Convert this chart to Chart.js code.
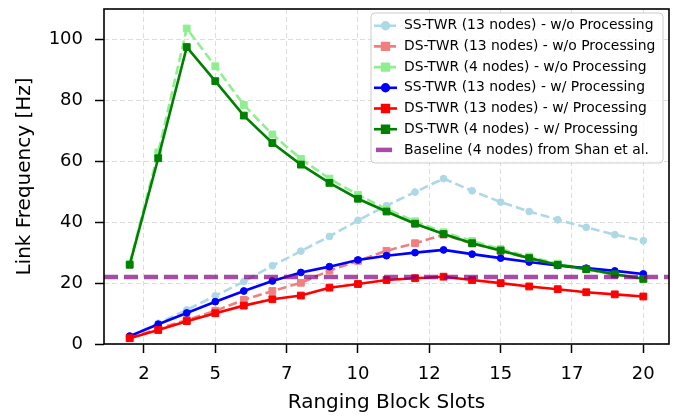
<!DOCTYPE html>
<html>
<head>
<meta charset="utf-8">
<script src="https://cdn.jsdelivr.net/npm/chart.js@4.4.1/dist/chart.umd.min.js"></script>
<style>
  html, body { margin: 0; padding: 0; background: #fff; }
  #wrap { width: 681px; height: 418px; }
</style>
</head>
<body>
<div id="wrap"><canvas id="chart" width="681" height="418"></canvas></div>
<script>
// x: ranging block slots, y: link frequency in Hz
const slots = [2, 3, 4, 5, 6, 7, 8, 9, 10, 11, 12, 13, 14, 15, 16, 17, 18, 19, 20];
const xTicks = [2.5, 5, 7.5, 10, 12.5, 15, 17.5, 20];
const yTicks = [0, 20, 40, 60, 80, 100];
const xLimits = [1.1, 20.9];

const ssTwr13NoProc = [2.6, 6.8, 11.2, 15.8, 20.5, 25.7, 30.5, 35.3, 40.6, 45.4, 49.9, 54.3, 50.3, 46.6, 43.5, 40.8, 38.3, 35.9, 33.9];
const dsTwr13NoProc = [2.0, 5.0, 7.9, 10.9, 14.5, 17.4, 20.1, 24.1, 27.3, 30.6, 33.1, 35.9, 33.0, 30.6, 28.1, 25.9, 24.5, 22.8, 21.3];
const dsTwr4NoProc = [26.3, 62.9, 103.6, 91.2, 78.5, 68.8, 60.8, 54.3, 49.0, 44.3, 40.3, 36.7, 33.8, 31.2, 28.7, 26.4, 24.6, 22.9, 21.4];
const ssTwr13Proc = [2.6, 6.5, 10.2, 13.9, 17.4, 20.7, 23.5, 25.4, 27.6, 29.0, 30.0, 30.9, 29.5, 28.2, 26.9, 25.8, 24.9, 24.0, 23.0];
const dsTwr13Proc = [1.9, 4.6, 7.5, 10.1, 12.6, 14.7, 15.9, 18.5, 19.7, 21.0, 21.6, 22.1, 21.0, 20.0, 18.9, 18.0, 17.0, 16.3, 15.6];
const dsTwr4Proc = [26.0, 61.0, 97.5, 86.3, 75.0, 66.0, 58.9, 52.9, 47.7, 43.5, 39.5, 36.1, 33.1, 30.7, 28.2, 26.0, 24.6, 22.9, 21.4];
const baselineShan = 22;

const FONT = "'DejaVu Sans', sans-serif";

const pts = arr => slots.map((x, i) => ({ x: x, y: arr[i] }));

function series(label, arr, color, dashed, shape) {
  return {
    label: label,
    data: pts(arr),
    borderColor: color,
    backgroundColor: color,
    borderWidth: 2.6,
    borderDash: dashed ? [9, 4] : [],
    pointStyle: shape,
    pointRadius: shape === 'rect' ? 4.8 : 3.4,
    pointBorderWidth: 1,
    pointBorderColor: color,
    pointBackgroundColor: color,
    tension: 0
  };
}

const datasets = [
  series('SS-TWR (13 nodes) - w/o Processing', ssTwr13NoProc, '#add8e6', true, 'circle'),
  series('DS-TWR (13 nodes) - w/o Processing', dsTwr13NoProc, '#f08080', true, 'rect'),
  series('DS-TWR (4 nodes) - w/o Processing', dsTwr4NoProc, '#90ee90', true, 'rect'),
  series('SS-TWR (13 nodes) - w/ Processing', ssTwr13Proc, '#0000ff', false, 'circle'),
  series('DS-TWR (13 nodes) - w/ Processing', dsTwr13Proc, '#ff0000', false, 'rect'),
  series('DS-TWR (4 nodes) - w/ Processing', dsTwr4Proc, '#008000', false, 'rect'),
  {
    label: 'Baseline (4 nodes) from Shan et al.',
    data: xLimits.map(x => ({ x: x, y: baselineShan })),
    borderColor: 'rgba(128, 0, 128, 0.7)',
    backgroundColor: 'rgba(128, 0, 128, 0.7)',
    borderWidth: 4.5,
    borderDash: [14, 6],
    pointRadius: 0
  }
];
// later series on top, like matplotlib
datasets.forEach((d, i) => { d.order = datasets.length - i; });

// frame on all four sides
const frame = {
  id: 'frame',
  afterDatasetsDraw(chart) {
    const { ctx, chartArea: a } = chart;
    ctx.save();
    ctx.strokeStyle = '#000';
    ctx.lineWidth = 1.6;
    ctx.strokeRect(a.left, a.top, a.right - a.left, a.bottom - a.top);
    ctx.restore();
  }
};

// matplotlib-like legend in the upper right corner
const legendBox = {
  id: 'legendBox',
  afterDraw(chart) {
    const { ctx, chartArea: a } = chart;
    const w = 292, h = 150;
    const right = a.right - 6, top = a.top + 4;
    const left = right - w;
    ctx.save();
    ctx.beginPath();
    ctx.roundRect(left, top, w, h, 4);
    ctx.fillStyle = 'rgba(255,255,255,0.8)';
    ctx.fill();
    ctx.strokeStyle = '#cccccc';
    ctx.lineWidth = 1;
    ctx.stroke();

    chart.data.datasets.forEach((ds, i) => {
      const y = top + 12.7 + i * 20.7;
      const x0 = left + 3, x1 = left + 26;
      ctx.strokeStyle = ds.borderColor;
      ctx.lineWidth = ds.borderWidth;
      ctx.beginPath();
      if (ds.pointRadius > 0) {
        ctx.setLineDash(ds.borderDash);
        ctx.moveTo(x0, y);
        ctx.lineTo(x1, y);
      } else {
        ctx.setLineDash([]);
        ctx.moveTo(x0 + 2, y);
        ctx.lineTo(x0 + 18, y);
      }
      ctx.stroke();
      ctx.setLineDash([]);
      if (ds.pointRadius > 0) {
        Chart.helpers.drawPoint(ctx, {
          pointStyle: ds.pointStyle,
          radius: ds.pointRadius,
          borderWidth: 1
        }, (x0 + x1) / 2, y);
        ctx.fillStyle = ds.backgroundColor;
        ctx.fill();
      }
      ctx.fillStyle = '#000';
      ctx.font = '13.9px ' + FONT;
      ctx.textBaseline = 'middle';
      ctx.textAlign = 'left';
      ctx.fillText(ds.label, left + 33, y);
    });
    ctx.restore();
  }
};

new Chart(document.getElementById('chart'), {
  type: 'line',
  data: { datasets: datasets },
  plugins: [frame, legendBox],
  options: {
    responsive: false,
    devicePixelRatio: 1,
    animation: false,
    layout: { padding: { left: 0, right: 12, top: 9, bottom: 0 } },
    plugins: {
      legend: { display: false },
      tooltip: { enabled: false }
    },
    scales: {
      x: {
        type: 'linear',
        min: xLimits[0],
        max: xLimits[1],
        afterBuildTicks: s => { s.ticks = xTicks.map(v => ({ value: v })); },
        afterFit: s => { s.height = 74; s.paddingLeft = 0; s.paddingRight = 0; },
        ticks: {
          autoSkip: false,
          maxRotation: 0,
          padding: 11,
          color: '#000',
          font: { family: FONT, size: 18 },
          callback: v => String(Math.trunc(v))
        },
        grid: {
          color: '#dddddd',
          lineWidth: 1,
          tickLength: 9,
          tickWidth: 1.5,
          tickColor: '#000',
          tickBorderDash: [50, 0]
        },
        border: { display: false, dash: [5, 3] },
        title: {
          display: true,
          text: 'Ranging Block Slots',
          color: '#000',
          font: { family: FONT, size: 20 },
          padding: { top: 0, bottom: 3 }
        }
      },
      y: {
        min: 0,
        max: 110,
        afterBuildTicks: s => { s.ticks = yTicks.map(v => ({ value: v })); },
        afterFit: s => { s.width = 104; s.paddingTop = 0; s.paddingBottom = 0; },
        ticks: {
          padding: 12,
          color: '#000',
          font: { family: FONT, size: 18 }
        },
        grid: {
          color: '#dddddd',
          lineWidth: 1,
          tickLength: 9,
          tickWidth: 1.5,
          tickColor: '#000',
          tickBorderDash: [50, 0]
        },
        border: { display: false, dash: [5, 3] },
        title: {
          display: true,
          text: 'Link Frequency [Hz]',
          color: '#000',
          font: { family: FONT, size: 20 },
          padding: { top: 13, bottom: 0 }
        }
      }
    }
  }
});
</script>
</body>
</html>
